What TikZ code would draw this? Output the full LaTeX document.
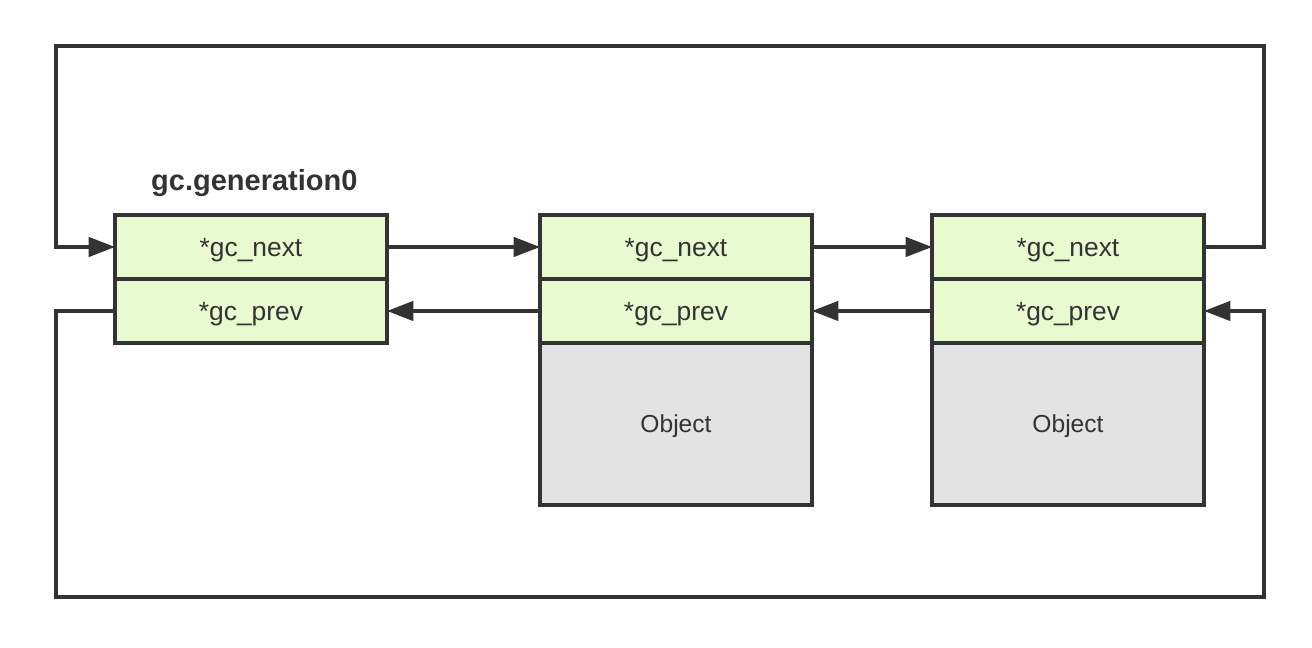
\documentclass[tikz,border=0pt]{standalone}
\usepackage{fontspec}
\setmainfont{Liberation Sans}
\usetikzlibrary{arrows.meta, positioning}
\definecolor{linecol}{RGB}{51,51,51}
\definecolor{fieldfill}{RGB}{232,251,208}
\definecolor{objfill}{RGB}{227,227,227}

\begin{document}
\begin{tikzpicture}[
    x=0.02cm, y=-0.02cm,
    field/.style={draw=linecol, line width=2pt, fill=fieldfill, minimum width=5.44cm, minimum height=1.28cm, inner sep=0pt, outer sep=0pt, text depth=0pt, text=linecol, font=\fontsize{15}{18}\selectfont},
    objbox/.style={field, fill=objfill, minimum height=3.24cm, font=\fontsize{14}{17}\selectfont},
    arr/.style={-{Triangle[length=15pt, width=11pt]}, line width=2pt, color=linecol}
  ]
  \useasboundingbox (0,0) rectangle (1312,648);
  % list head
  \node[font=\bfseries\fontsize{16.5}{20}\selectfont, text=linecol, anchor=west] (head) at (145,183) {gc.generation0};
  \node[field, anchor=north] (next0) at (251,215) {*gc\_next};
  \node[field, below=0pt of next0] (prev0) {*gc\_prev};
  % first object
  \node[field, anchor=north] (next1) at (676,215) {*gc\_next};
  \node[field, below=0pt of next1] (prev1) {*gc\_prev};
  \node[objbox, below=0pt of prev1] (obj1) {Object};
  % second object
  \node[field, anchor=north] (next2) at (1068,215) {*gc\_next};
  \node[field, below=0pt of next2] (prev2) {*gc\_prev};
  \node[objbox, below=0pt of prev2] (obj2) {Object};
  \coordinate (topL) at (56,46);
  \coordinate (topR) at (1264,46);
  \coordinate (botL) at (56,597);
  \coordinate (botR) at (1264,597);
  \draw[arr] (next0) -- (next1);
  \draw[arr] (next1) -- (next2);
  \draw[arr] (prev1) -- (prev0);
  \draw[arr] (prev2) -- (prev1);
  \draw[arr] (next2.east) -| (topR) -- (topL) |- (next0.west);
  \draw[arr] (prev0.west) -| (botL) -- (botR) |- (prev2.east);
\end{tikzpicture}
\end{document}
